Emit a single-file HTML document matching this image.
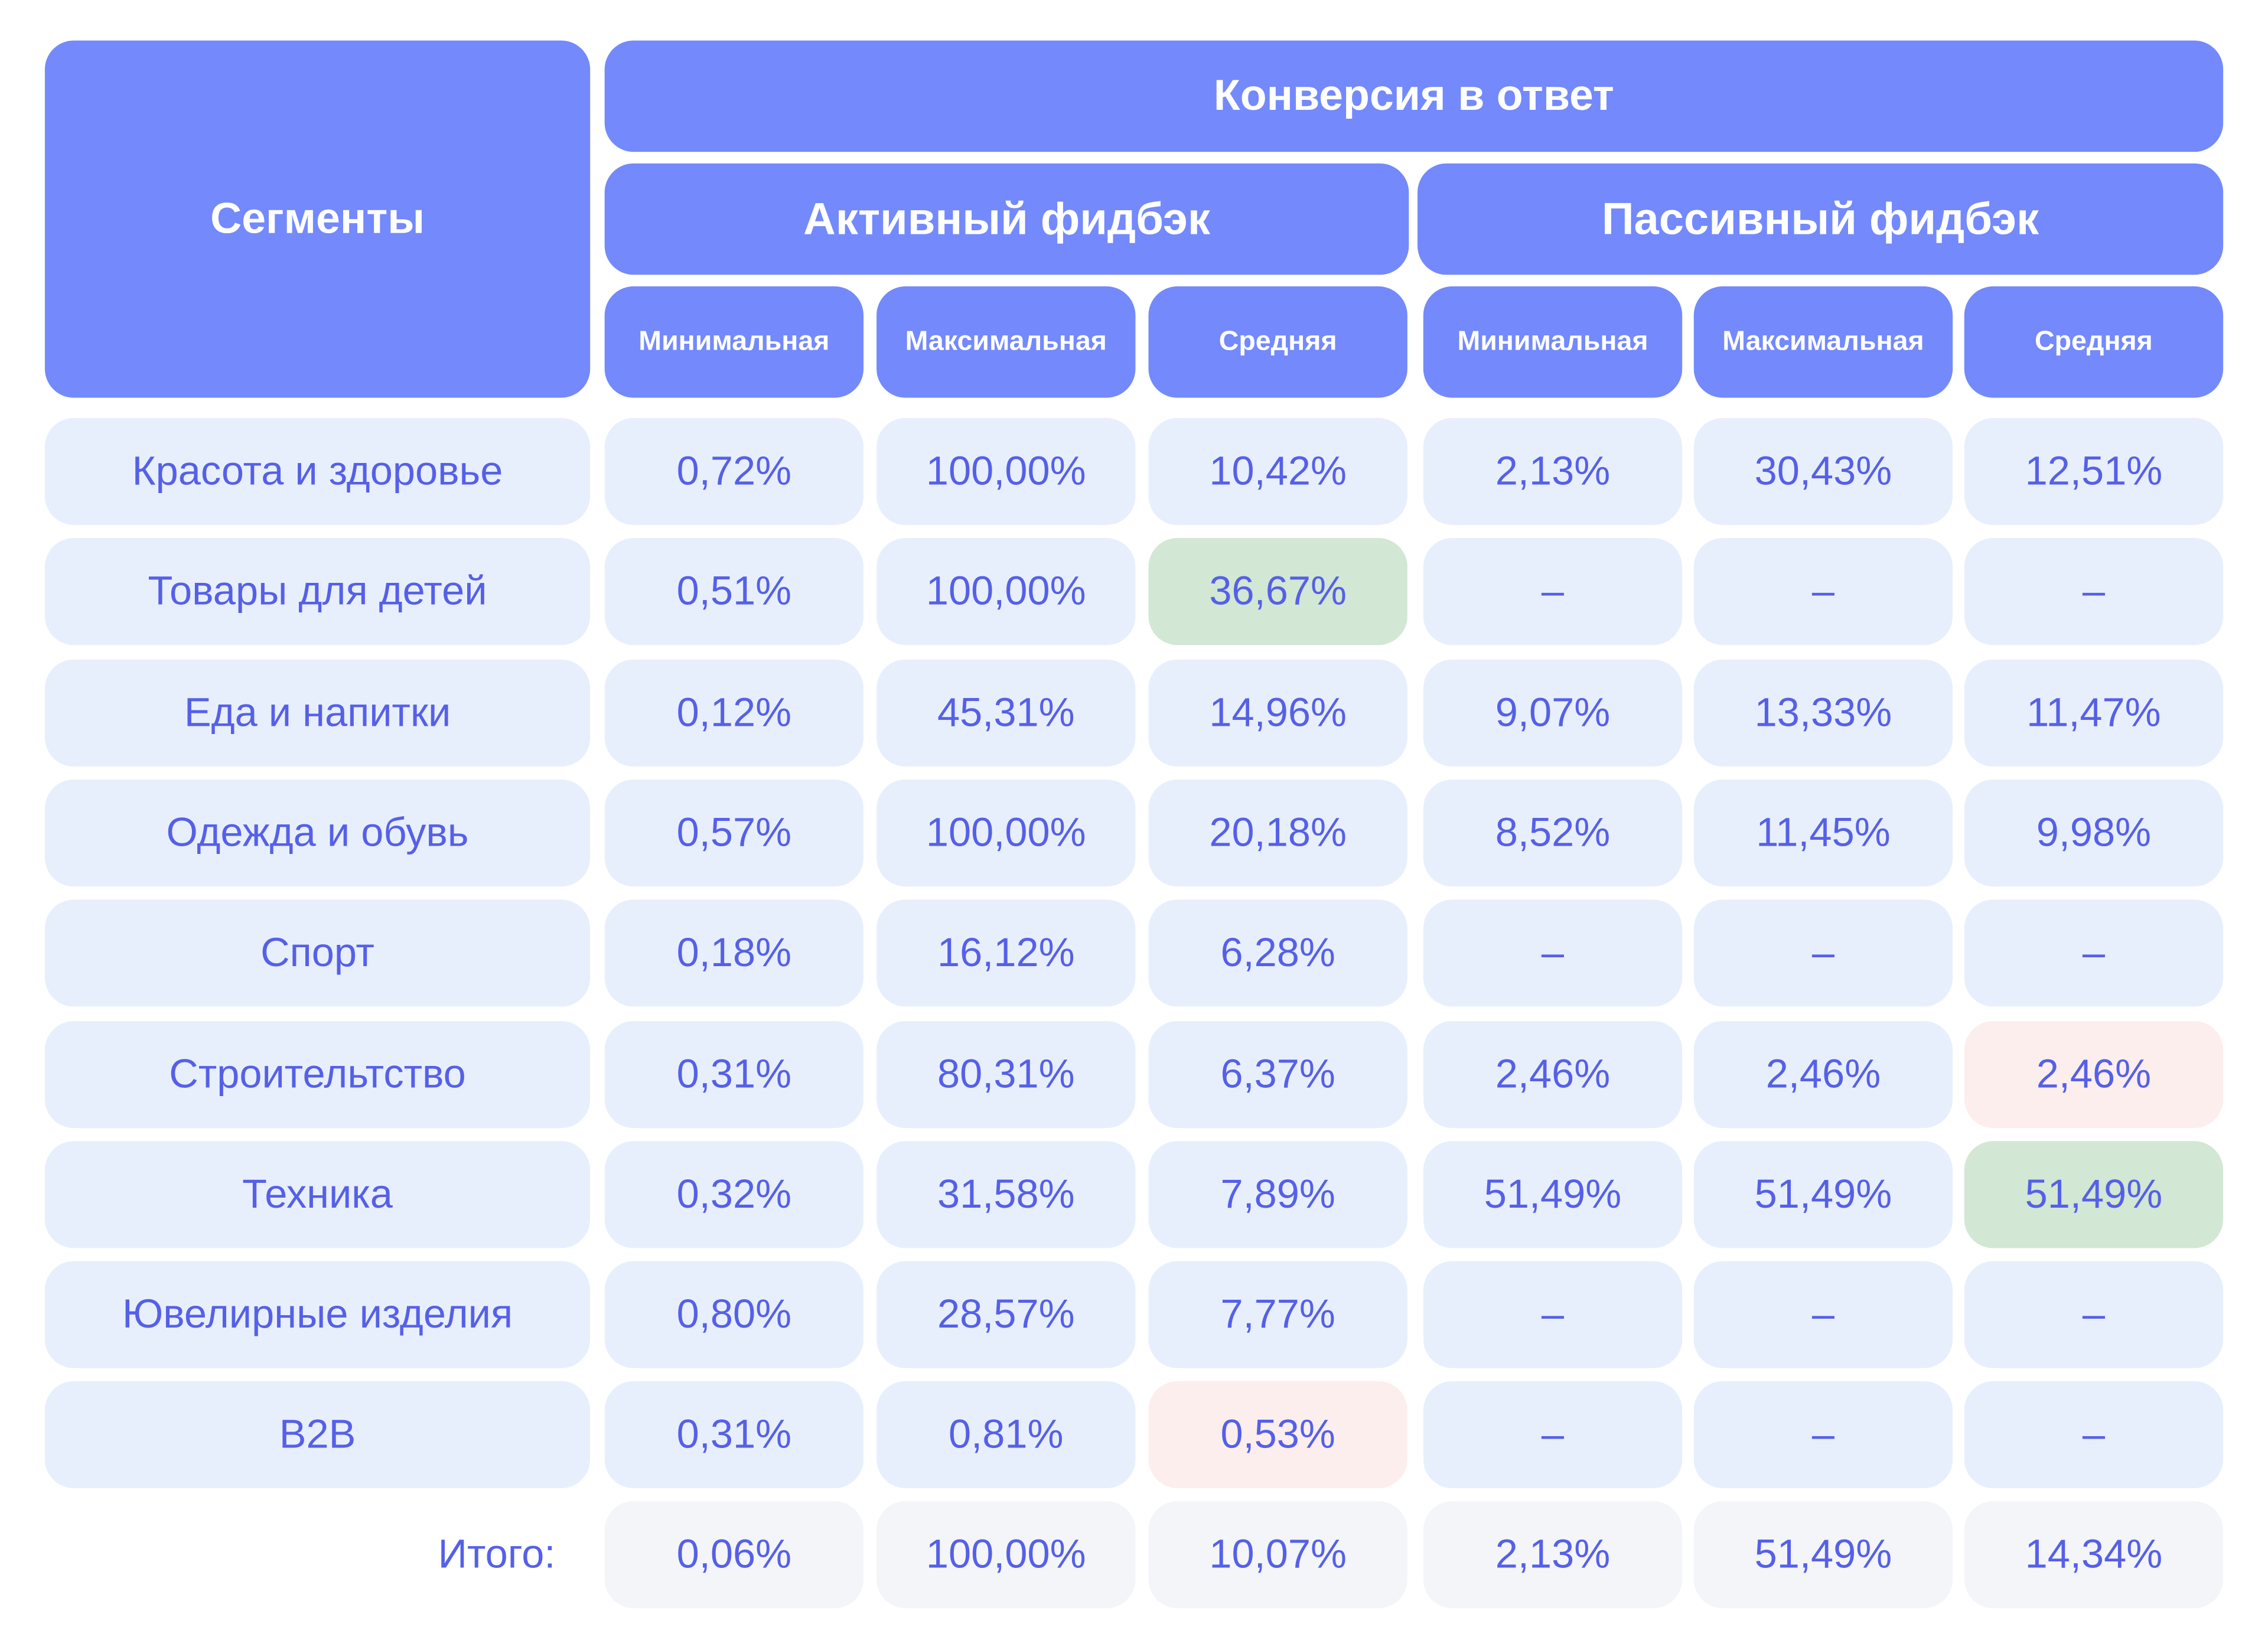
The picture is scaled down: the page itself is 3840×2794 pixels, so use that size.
<!DOCTYPE html>
<html><head><meta charset="utf-8"><style>
html,body{margin:0;padding:0;background:#fff;width:3840px;height:2794px;overflow:hidden}
#s{position:absolute;left:0;top:0;width:1568px;height:1141px;transform:scale(2.449);transform-origin:0 0;font-family:"Liberation Sans","DejaVu Sans",sans-serif}
.c{position:absolute;display:flex;align-items:center;justify-content:center;border-radius:20px;box-sizing:border-box}
.h{background:#7389fc;color:#fff;font-weight:bold}
.d{background:#e8effc;color:#5560e8;font-size:28px}
.t{background:#f4f5f8;color:#5560e8;font-size:28px}
.g{background:#d2e7d4}.p{background:#fdeeee}
</style></head><body><div id="s">
<div class="c h" style="left:31px;top:28px;width:377px;height:247px;font-size:30px">Сегменты</div>
<div class="c h" style="left:418px;top:28px;width:1119px;height:77px;font-size:30px">Конверсия в ответ</div>
<div class="c h" style="left:418px;top:113px;width:556px;height:77px;font-size:31px">Активный фидбэк</div>
<div class="c h" style="left:980px;top:113px;width:557px;height:77px;font-size:31px">Пассивный фидбэк</div>
</div>
<script>
const colX=[418,606,794,984,1171,1358];
const colW=[179,179,179,179,179,179];
const colHeads=["Минимальная","Максимальная","Средняя","Минимальная","Максимальная","Средняя"];
const segments=["Красота и здоровье","Товары для детей","Еда и напитки","Одежда и обувь","Спорт","Строительтство","Техника","Ювелирные изделия","B2B"];
const values=[
["0,72%","100,00%","10,42%","2,13%","30,43%","12,51%"],
["0,51%","100,00%","36,67%","–","–","–"],
["0,12%","45,31%","14,96%","9,07%","13,33%","11,47%"],
["0,57%","100,00%","20,18%","8,52%","11,45%","9,98%"],
["0,18%","16,12%","6,28%","–","–","–"],
["0,31%","80,31%","6,37%","2,46%","2,46%","2,46%"],
["0,32%","31,58%","7,89%","51,49%","51,49%","51,49%"],
["0,80%","28,57%","7,77%","–","–","–"],
["0,31%","0,81%","0,53%","–","–","–"]];
const totals=["0,06%","100,00%","10,07%","2,13%","51,49%","14,34%"];
const hl={"1-2":"g","6-5":"g","5-5":"p","8-2":"p"};
const s=document.getElementById('s');
function mk(cls,x,y,w,h,txt){const e=document.createElement('div');e.className='c '+cls;e.style.cssText=`left:${x}px;top:${y}px;width:${w}px;height:${h}px`;e.textContent=txt;s.appendChild(e);return e;}
colHeads.forEach((t,i)=>{const e=mk('h',colX[i],198,colW[i],77,t);e.style.fontSize='19px';

});
segments.forEach((seg,r)=>{const y=289+r*83.3;
const e=mk('d',31,y,377,74,seg);


values[r].forEach((v,c)=>{const k=hl[r+'-'+c];const el=mk('d'+(k?' '+k:''),colX[c],y,colW[c],74,v);

});});
const ty=1038;
const tl=mk('',31,ty,377,74,'Итого:');tl.style.color='#5560e8';tl.style.fontSize='28px';tl.style.justifyContent='flex-end';tl.style.paddingRight='24px';


totals.forEach((v,c)=>{const el=mk('t',colX[c],ty,colW[c],74,v);

});
</script></body></html>
